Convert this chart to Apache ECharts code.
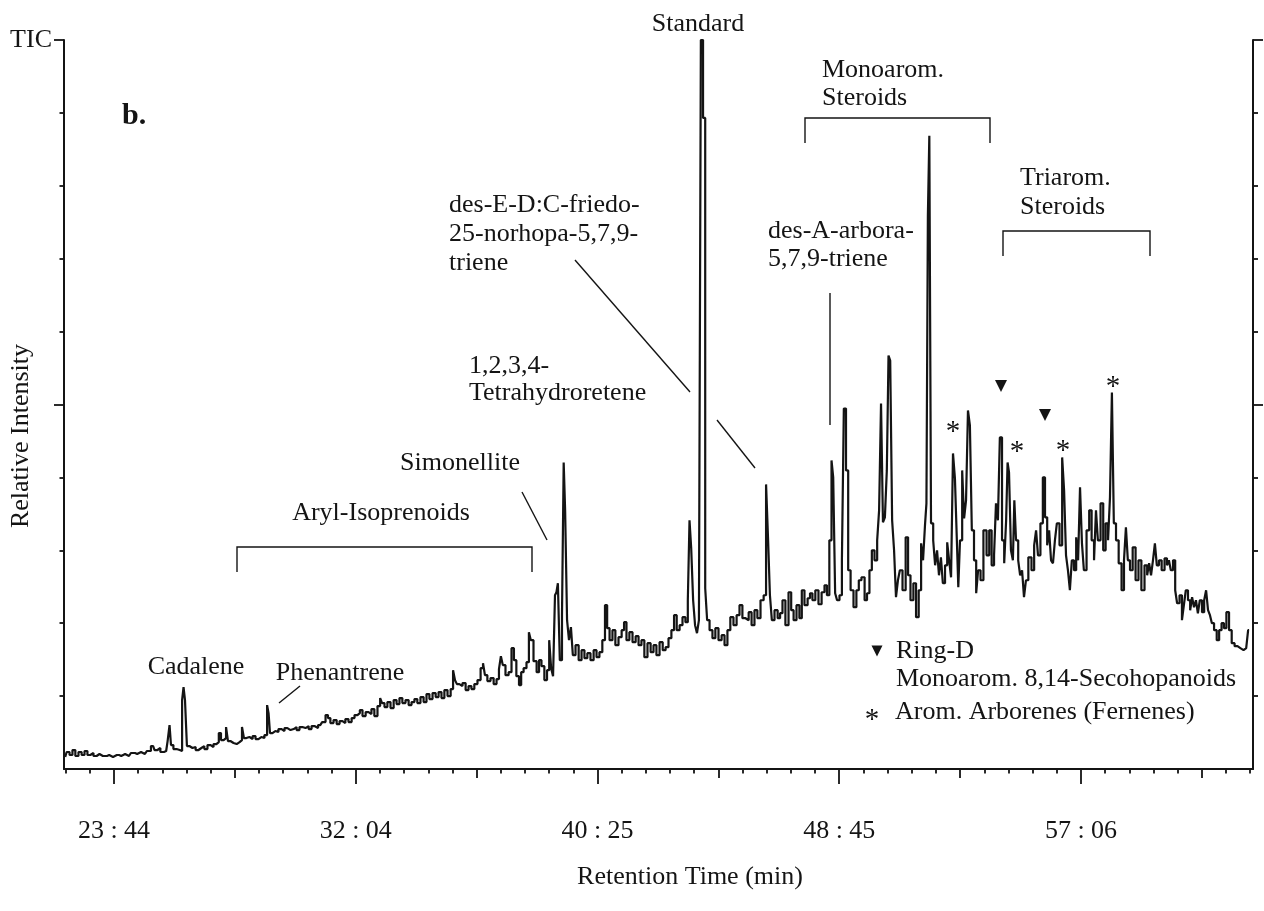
<!DOCTYPE html>
<html>
<head>
<meta charset="utf-8">
<style>
  html, body { margin: 0; padding: 0; background: #ffffff; }
  #chart { width: 1264px; height: 911px; }
</style>
<script src="https://cdn.jsdelivr.net/npm/echarts@6/dist/echarts.min.js"></script>
</head>
<body>
<div id="chart"></div>
<script>
// ---------- DATA ----------
// retention time in seconds
const retentionTime = [
  1323,1329,1335,1341,1347,1354,1360,1366,1372,1378,
  1385,1391,1397,1405,1414,1422,1430,1439,1447,1455,
  1463,1472,1480,1488,1496,1505,1511,1517,1523,1532,
  1538,1540,1544,1550,1557,1563,1567,1569,1573,1577,
  1583,1590,1596,1602,1608,1614,1621,1627,1633,1639,
  1643,1648,1654,1658,1662,1668,1675,1681,1687,1691,
  1695,1701,1708,1714,1720,1726,1732,1739,1743,1745,
  1749,1755,1761,1768,1774,1780,1786,1793,1799,1805,
  1811,1817,1824,1830,1836,1842,1851,1859,1865,1869,
  1875,1882,1888,1894,1900,1906,1913,1919,1925,1931,
  1935,1942,1948,1954,1960,1966,1973,1977,1981,1987,
  1993,2000,2006,2012,2018,2024,2031,2037,2043,2049,
  2055,2062,2068,2074,2080,2087,2093,2099,2105,2111,
  2118,2124,2128,2132,2136,2142,2149,2155,2161,2167,
  2173,2180,2186,2190,2194,2200,2207,2213,2219,2223,
  2227,2231,2238,2244,2250,2254,2260,2265,2269,2275,
  2281,2285,2289,2296,2302,2306,2312,2318,2323,2327,
  2331,2335,2339,2341,2345,2349,2354,2356,2360,2364,
  2368,2372,2376,2383,2389,2395,2401,2407,2414,2420,
  2426,2432,2438,2443,2447,2453,2459,2465,2472,2478,
  2482,2488,2494,2501,2507,2513,2519,2525,2532,2538,
  2544,2550,2557,2563,2569,2575,2581,2586,2592,2598,
  2604,2610,2614,2617,2621,2625,2629,2633,2637,2641,
  2646,2650,2654,2660,2666,2672,2679,2685,2691,2697,
  2703,2710,2716,2722,2728,2735,2741,2747,2753,2759,
  2766,2772,2776,2780,2784,2788,2795,2801,2805,2811,
  2817,2824,2828,2834,2840,2846,2850,2857,2863,2867,
  2873,2879,2886,2892,2898,2902,2908,2911,2915,2919,
  2923,2929,2933,2937,2942,2946,2952,2958,2964,2968,
  2975,2981,2985,2991,2995,3002,3006,3010,3014,3018,
  3022,3026,3029,3033,3037,3041,3045,3049,3053,3060,
  3066,3070,3076,3082,3087,3093,3097,3101,3105,3107,
  3111,3113,3118,3122,3126,3130,3134,3138,3142,3147,
  3151,3155,3159,3163,3167,3171,3173,3178,3182,3186,
  3190,3194,3198,3202,3207,3211,3215,3221,3227,3234,
  3238,3244,3248,3252,3256,3260,3265,3269,3273,3275,
  3279,3283,3287,3289,3294,3298,3302,3306,3310,3314,
  3320,3327,3331,3335,3339,3345,3349,3354,3358,3362,
  3366,3370,3374,3378,3385,3389,3393,3397,3401,3405,
  3409,3414,3418,3422,3426,3430,3434,3441,3445,3451,
  3455,3459,3463,3470,3474,3480,3484,3488,3492,3496,
  3501,3507,3513,3517,3521,3525,3530,3536,3542,3548,
  3554,3561,3565,3569,3573,3577,3581,3585,3590,3596,
  3602,3606,3610,3614,3619,3623,3627,3633,3637,3641,
  3645,3650,3654,3658,3662,3666,3670,3674,3679,3683,
  3687,3691,3695,3699,3704,3710,3714,3720,3724,3730,
  3735,3741,3747,3753,3759,3766,3770,3774
];
// TIC relative intensity (arbitrary units, full scale = 730)
const intensity = [
  12,17,14,19,13,17,14,18,14,16,
  13,15,13,13,14,12,14,13,15,13,
  16,15,17,15,18,23,19,21,17,18,
  28,44,24,20,19,18,69,82,69,23,
  21,22,19,21,23,20,24,22,25,27,
  36,29,31,42,28,26,25,27,29,42,
  31,32,30,33,30,32,31,34,64,56,
  36,38,37,40,38,41,39,40,42,39,
  42,41,43,40,43,41,44,47,54,51,
  46,49,45,48,46,50,47,51,54,56,
  59,53,57,55,60,53,63,71,66,62,
  67,61,69,65,71,66,69,64,67,70,
  66,72,67,75,70,76,72,77,71,79,
  73,80,99,89,85,83,86,79,83,80,
  85,89,101,106,94,88,91,85,90,100,
  113,104,94,97,121,109,93,84,97,101,
  107,137,129,108,97,109,103,89,99,129,
  101,93,174,177,186,109,154,307,259,149,
  129,142,114,124,109,119,111,116,109,119,
  112,117,129,164,141,129,139,124,132,139,
  147,129,137,127,133,124,129,112,126,117,
  124,114,127,119,122,131,139,154,139,144,
  152,147,169,249,221,169,144,136,149,730,
  652,181,149,139,131,141,129,134,124,139,
  152,144,154,164,151,149,157,144,159,151,
  169,174,285,232,174,149,159,151,156,169,
  144,177,159,149,164,151,179,164,171,176,
  169,179,165,177,184,174,229,309,292,176,
  169,174,209,361,299,199,179,162,179,189,
  192,169,176,199,219,209,229,259,366,247,
  252,299,414,409,249,219,172,189,199,179,
  232,194,169,186,152,179,226,209,244,266,
  554,634,246,229,204,219,194,212,186,204,
  227,209,192,316,291,229,182,229,299,251,
  269,359,344,239,209,176,199,189,239,214,
  239,204,214,266,249,332,229,206,249,307,
  297,219,209,269,229,209,194,199,172,189,
  212,199,224,239,214,246,292,252,224,239,
  209,206,229,246,224,312,279,214,199,179,
  209,199,232,209,282,226,199,239,259,229,
  209,259,229,266,219,246,229,272,377,246,
  229,206,179,209,242,209,199,222,189,209,
  179,204,194,206,194,209,226,204,209,199,
  211,204,209,199,209,179,166,174,149,164,
  179,169,159,172,162,169,156,169,157,169,
  179,159,154,146,139,129,139,146,141,157,
  139,126,123,121,119,121,121,139
];
// x-axis labelled ticks (seconds) and their labels
const tickSeconds = [1424, 1924.5, 2425, 2925.5, 3426];
const tickLabels = ['23 : 44', '32 : 04', '40 : 25', '48 : 45', '57 : 06'];
// y-axis tick values
const yTicksShort = [73, 146, 219, 292, 438, 511, 584, 657];
const yTicksLong = [365, 730];

// ---------- BUILD ----------
const n = Math.min(retentionTime.length, intensity.length);
const trace = [];
for (let i = 0; i < n; i++) trace.push([retentionTime[i], intensity[i]]);

const X_MIN = 1320.5, X_MAX = 3782.1;
const minorStep = (tickSeconds[1] - tickSeconds[0]) / 10;
const midTicks = [], minorTicks = [];
for (let k = -2; k <= 47; k++) {
  const t = tickSeconds[0] + k * minorStep;
  if (t < X_MIN || t > X_MAX) continue;
  const r = ((k % 10) + 10) % 10;
  if (r === 0) continue;
  if (r === 5) midTicks.push(t); else minorTicks.push(t);
}

const INK = '#141414';
const FONT = '"Liberation Serif", "Times New Roman", serif';
const FS = 26;

function xAx(ticks, len, showLine, showLabel) {
  return {
    type: 'value', min: X_MIN, max: X_MAX, position: 'bottom',
    axisLine: { show: showLine, onZero: false, lineStyle: { color: INK, width: 2.2 } },
    axisTick: { show: true, customValues: ticks, length: len, lineStyle: { color: INK, width: 1.8 } },
    axisLabel: showLabel ? {
      show: true, customValues: tickSeconds, margin: 49,
      color: INK, fontFamily: FONT, fontSize: FS,
      formatter: function (v) {
        for (let i = 0; i < tickSeconds.length; i++) if (Math.abs(tickSeconds[i] - v) < 0.01) return tickLabels[i];
        return '';
      }
    } : { show: false },
    splitLine: { show: false }, minorTick: { show: false }
  };
}
function yAx(pos, ticks, len, showLine) {
  return {
    type: 'value', min: 0, max: 730, position: pos,
    axisLine: { show: showLine, onZero: false, lineStyle: { color: INK, width: 2 } },
    axisTick: { show: true, customValues: ticks, length: len, lineStyle: { color: INK, width: 1.8 } },
    axisLabel: { show: false }, splitLine: { show: false }
  };
}

function txt(text, x, y, o) {
  o = o || {};
  return {
    type: 'text', x: x, y: y, rotation: o.rotation || 0, z: 100,
    style: {
      text: text, fill: INK,
      font: (o.bold ? 'bold ' : '') + (o.size || FS) + 'px ' + FONT,
      textAlign: o.align || 'left', textVerticalAlign: 'middle'
    }
  };
}
function seg(points) {
  return { type: 'polyline', z: 100, shape: { points: points }, style: { stroke: INK, lineWidth: 1.4, fill: null } };
}
function tri(cx, cy, s) {
  return { type: 'polygon', z: 100, shape: { points: [[cx - s / 2, cy - s / 2], [cx + s / 2, cy - s / 2], [cx, cy + s / 2]] }, style: { fill: INK } };
}

const graphics = [
  txt('TIC', 52, 40, { align: 'right' }),
  txt('Relative Intensity', 21, 436, { align: 'center', rotation: Math.PI / 2 }),
  txt('Retention Time (min)', 690, 877, { align: 'center' }),
  txt('b.', 122, 116, { bold: true, size: 30 }),
  txt('Standard', 698, 24, { align: 'center' }),
  txt('Monoarom.', 822, 70),
  txt('Steroids', 822, 98),
  seg([[805, 143], [805, 118], [990, 118], [990, 143]]),
  txt('Triarom.', 1020, 178),
  txt('Steroids', 1020, 207),
  seg([[1003, 256], [1003, 231], [1150, 231], [1150, 256]]),
  txt('des-E-D:C-friedo-', 449, 205),
  txt('25-norhopa-5,7,9-', 449, 234),
  txt('triene', 449, 263),
  seg([[575, 260], [690, 392]]),
  txt('des-A-arbora-', 768, 231),
  txt('5,7,9-triene', 768, 259),
  seg([[830, 293], [830, 425]]),
  txt('1,2,3,4-', 469, 366),
  txt('Tetrahydroretene', 469, 393),
  seg([[717, 420], [755, 468]]),
  txt('Simonellite', 460, 463, { align: 'center' }),
  seg([[522, 492], [547, 540]]),
  txt('Aryl-Isoprenoids', 381, 513, { align: 'center' }),
  seg([[237, 572], [237, 547], [532, 547], [532, 572]]),
  txt('Cadalene', 196, 667, { align: 'center' }),
  txt('Phenantrene', 340, 673, { align: 'center' }),
  seg([[300, 686], [279, 703]]),
  // peak markers
  tri(1001, 386, 12),
  tri(1045, 415, 12),
  txt('*', 953, 432, { align: 'center', size: 29 }),
  txt('*', 1017, 452, { align: 'center', size: 29 }),
  txt('*', 1063, 451, { align: 'center', size: 29 }),
  txt('*', 1113, 387, { align: 'center', size: 29 }),
  // legend
  tri(877, 651, 11),
  txt('Ring-D', 896, 651),
  txt('Monoarom. 8,14-Secohopanoids', 896, 679),
  txt('*', 872, 720, { align: 'center', size: 29 }),
  txt('Arom. Arborenes (Fernenes)', 895, 712)
];

const chart = echarts.init(document.getElementById('chart'), null, { renderer: 'canvas' });
chart.setOption({
  animation: false,
  backgroundColor: '#ffffff',
  grid: { left: 64, right: 11, top: 40, bottom: 142, containLabel: false, outerBoundsMode: 'none' },
  xAxis: [
    xAx(tickSeconds, 15, true, true),
    xAx(midTicks, 9, false, false),
    xAx(minorTicks, 4.5, false, false)
  ],
  yAxis: [
    yAx('left', yTicksShort, 4.5, true),
    yAx('left', yTicksLong, 10, false),
    yAx('right', yTicksShort, 5, true),
    yAx('right', yTicksLong, 10, false)
  ],
  series: [{
    type: 'line', xAxisIndex: 0, yAxisIndex: 0,
    data: trace, step: 'middle', symbol: 'none',
    lineStyle: { color: INK, width: 2.2 }, clip: true
  }],
  graphic: graphics
});
</script>
</body>
</html>
